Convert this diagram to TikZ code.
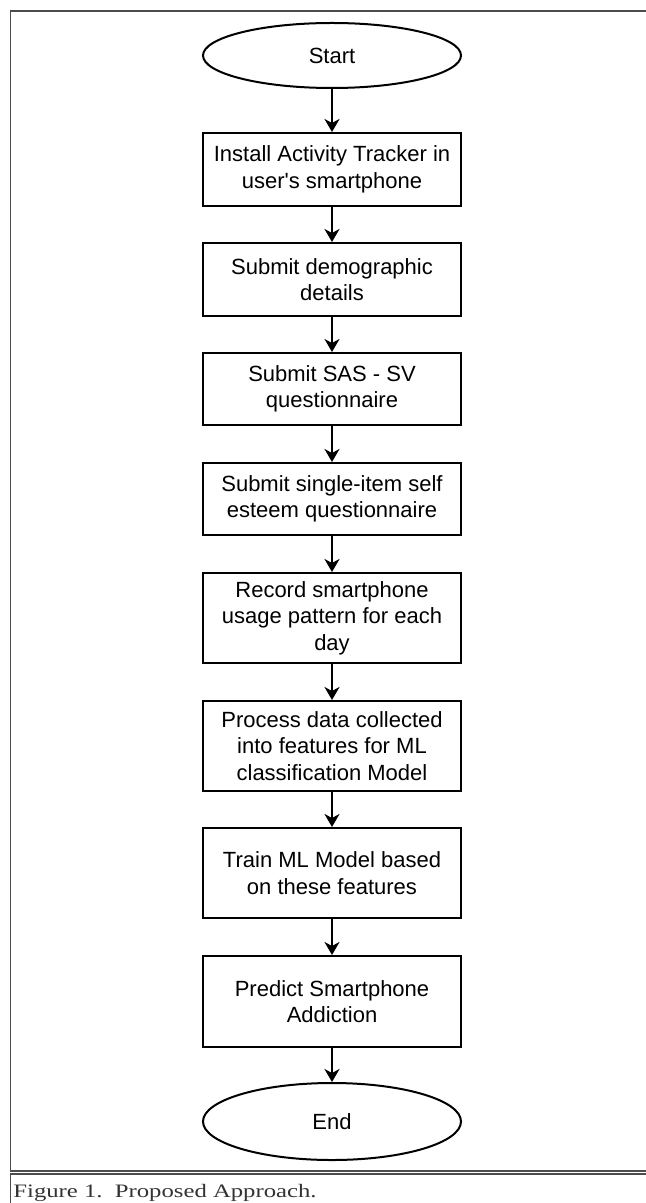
\documentclass[tikz,border=0pt]{standalone}
\usepackage{fontspec}
\setmainfont{Liberation Sans}
\newfontfamily\capfont[FakeStretch=1.3]{Liberation Serif}
\usetikzlibrary{shapes.geometric,arrows.meta}
\begin{document}
\begin{tikzpicture}[x=0.5pt,y=-0.5pt,
  boxfont/.style={font=\fontsize{11}{13.2}\selectfont},
  stepbox/.style={draw=black, line width=1pt, minimum width=129pt,
    inner sep=0pt, align=center, boxfont},
  term/.style={ellipse, draw=black, line width=1pt, minimum width=129pt,
    inner sep=0pt, boxfont},
  flow/.style={-{Stealth[length=6.5pt,width=7.5pt,inset=2pt]}, line width=1pt},
  framerule/.style={draw=black!70, line width=0.8pt}]
\useasboundingbox (0,0) rectangle (645,1203);
\fill[white] (0,0) rectangle (645,1203);

% figure frame and caption box (open to the right)
\draw[framerule] (660,11) -- (10.5,11) -- (10.5,1171) -- (660,1171);
\draw[framerule] (660,1174) -- (10.5,1174) -- (10.5,1215);
\node[anchor=base west, inner sep=0pt, text=black!80,
  font=\capfont\fontsize{9.5}{12}\selectfont] (cap) at (13,1197)
  {Figure 1.\ \ Proposed Approach.};

% flowchart
\node[term, minimum height=32.5pt] (start) at (332,55.5) {Start};
\node[stepbox, minimum height=36.5pt] (b1) at (332,169.5)
  {Install Activity Tracker in\\user\textquotesingle s smartphone};
\node[stepbox, minimum height=36.5pt] (b2) at (332,279.5)
  {Submit demographic\\details};
\node[stepbox, minimum height=36pt] (b3) at (332,389)
  {Submit SAS - SV\\questionnaire};
\node[stepbox, minimum height=36pt] (b4) at (332,499)
  {Submit single-item self\\esteem questionnaire};
\node[stepbox, minimum height=45pt] (b5) at (332,618)
  {Record smartphone\\usage pattern for each\\day};
\node[stepbox, minimum height=45pt] (b6) at (332,746)
  {Process data collected\\into features for ML\\classification Model};
\node[stepbox, minimum height=45pt] (b7) at (332,873)
  {Train ML Model based\\on these features};
\node[stepbox, minimum height=45.5pt] (b8) at (332,1001.5)
  {Predict Smartphone\\Addiction};
\node[term, minimum height=38.5pt] (end) at (332,1121.5) {End};

\draw[flow] (start) -- (b1);
\draw[flow] (b1) -- (b2);
\draw[flow] (b2) -- (b3);
\draw[flow] (b3) -- (b4);
\draw[flow] (b4) -- (b5);
\draw[flow] (b5) -- (b6);
\draw[flow] (b6) -- (b7);
\draw[flow] (b7) -- (b8);
\draw[flow] (b8) -- (end);
\end{tikzpicture}
\end{document}
